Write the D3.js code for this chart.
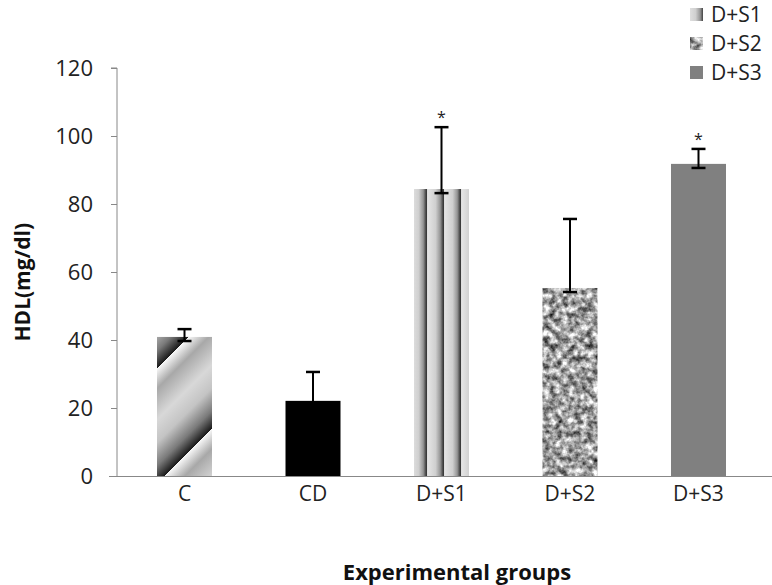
<!DOCTYPE html>
<html><head><meta charset="utf-8">
<script src="https://cdn.jsdelivr.net/npm/d3@7"></script>
<style>body{margin:0;background:#fff}svg{display:block}</style>
</head><body>
<svg id="chart" width="772" height="585"></svg>
<script>
const categories = ["C", "CD", "D+S1", "D+S2", "D+S3"];
const values = [40.9, 22.1, 84.4, 55.3, 91.8];
const errHigh = [43.2, 30.6, 102.6, 75.6, 96.2];
const errLow = [39.7, 21.2, 83.2, 54.1, 90.6];
const significant = [false, false, true, false, true];
const yTicks = [0, 20, 40, 60, 80, 100, 120];
const legendItems = ["D+S1", "D+S2", "D+S3"];

const svg = d3.select("#chart");
const font = "'Open Sans', 'Liberation Sans', sans-serif";
const defs = svg.append("defs");

const x = d3.scaleBand().domain(categories).range([120, 763])
  .paddingInner(0.572).paddingOuter(0.288);
const y = d3.scaleLinear().domain([0, 120]).range([476, 68]);

// C: diagonal sawtooth gradient
const gC = defs.append("linearGradient").attr("id", "gC")
  .attr("gradientUnits", "userSpaceOnUse").attr("spreadMethod", "repeat")
  .attr("x1", 32.5).attr("y1", 32.5).attr("x2", 90).attr("y2", 90);
[["0", "#fafafa"], ["0.18", "#a8a8a8"], ["0.45", "#d8d8d8"], ["0.65", "#c4c4c4"], ["0.85", "#7a7a7a"], ["1", "#1c1c1c"]]
  .forEach(([o, c]) => gC.append("stop").attr("offset", o).attr("stop-color", c));

// D+S1: vertical stripes
function stripeGrad(id, x0) {
  const g = defs.append("linearGradient").attr("id", id)
    .attr("gradientUnits", "userSpaceOnUse").attr("spreadMethod", "repeat")
    .attr("x1", x0).attr("y1", 0).attr("x2", x0 + 17).attr("y2", 0);
  [["0", "#e4e4e4"], ["0.45", "#cfcfcf"], ["0.72", "#959595"], ["0.9", "#3a3a3a"], ["0.93", "#3a3a3a"], ["0.96", "#dcdcdc"], ["1", "#e4e4e4"]]
    .forEach(([o, c]) => g.append("stop").attr("offset", o).attr("stop-color", c));
}
stripeGrad("gS1", x("D+S1") - 3);
stripeGrad("gS1leg", 688);

// D+S2: noise texture
const f = defs.append("filter").attr("id", "noise")
  .attr("color-interpolation-filters", "sRGB")
  .attr("x", 0).attr("y", 0).attr("width", 1).attr("height", 1);
f.append("feTurbulence").attr("type", "fractalNoise").attr("baseFrequency", 0.16)
  .attr("numOctaves", 3).attr("seed", 7).attr("result", "t");
f.append("feColorMatrix").attr("in", "t").attr("type", "matrix")
  .attr("values", "1.45 0 0 0 -0.1  1.45 0 0 0 -0.1  1.45 0 0 0 -0.1  0 0 0 0 1")
  .attr("result", "g");
f.append("feComposite").attr("in", "g").attr("in2", "SourceGraphic").attr("operator", "in");

const fills = ["url(#gC)", "#000000", "url(#gS1)", "#aaaaaa", "#808080"];
const filters = [null, null, null, "url(#noise)", null];

// Y axis
const yAxis = svg.append("g").attr("transform", "translate(117,0)")
  .call(d3.axisLeft(y).tickValues(yTicks).tickSize(6).tickPadding(18));
yAxis.select(".domain").attr("stroke", "#888").attr("d", `M-6,${y(120)}H0V${y(0)}`);
yAxis.selectAll(".tick line").attr("stroke", "#888");
yAxis.selectAll(".tick text").attr("font-family", font).attr("font-size", 22).attr("fill", "#222");

// X axis
const xAxis = svg.append("g").attr("transform", `translate(0,${y(0)})`)
  .call(d3.axisBottom(x).tickSize(0).tickPadding(10));
xAxis.select(".domain").attr("stroke", "#888").attr("d", `M109,0.5H772`);
xAxis.selectAll(".tick text").attr("font-family", font).attr("font-size", 21).attr("fill", "#222");

// Bars
const bars = svg.append("g");
categories.forEach((c, i) => {
  const r = bars.append("rect")
    .attr("x", x(c)).attr("width", x.bandwidth())
    .attr("y", y(values[i])).attr("height", y(0) - y(values[i]))
    .attr("fill", fills[i]);
  if (filters[i]) r.attr("filter", filters[i]);
});

// Error bars
const eb = svg.append("g").attr("stroke", "#000").attr("stroke-width", 2);
categories.forEach((c, i) => {
  const cx = x(c) + x.bandwidth() / 2;
  eb.append("line").attr("x1", cx).attr("x2", cx).attr("y1", y(errLow[i])).attr("y2", y(errHigh[i]));
  [errLow[i], errHigh[i]].forEach(v => eb.append("line")
    .attr("x1", cx - 7).attr("x2", cx + 7).attr("y1", y(v)).attr("y2", y(v)).attr("stroke-width", 2.5));
  if (significant[i]) {
    svg.append("text").attr("x", cx).attr("y", y(errHigh[i]) - 4)
      .attr("text-anchor", "middle").attr("font-family", font).attr("font-size", 16)
      .attr("fill", "#222").text("*");
  }
});

// Axis titles
svg.append("text").attr("transform", `translate(30,${y(57)}) rotate(-90)`)
  .attr("text-anchor", "middle").attr("font-family", font).attr("font-weight", "bold")
  .attr("font-size", 21).attr("fill", "#111").text("HDL(mg/dl)");
svg.append("text").attr("x", 457).attr("y", 580)
  .attr("text-anchor", "middle").attr("font-family", font).attr("font-weight", "bold")
  .attr("font-size", 22).attr("fill", "#111").text("Experimental groups");

// Legend
const legFills = ["url(#gS1leg)", "#aaaaaa", "#808080"];
const legFilters = [null, "url(#noise)", null];
legendItems.forEach((t, i) => {
  const ly = 14 + i * 29;
  const r = svg.append("rect").attr("x", 690).attr("y", ly - 6).attr("width", 13).attr("height", 13)
    .attr("fill", legFills[i]);
  if (legFilters[i]) r.attr("filter", legFilters[i]);
  svg.append("text").attr("x", 711).attr("y", ly + 8).attr("font-family", font)
    .attr("font-size", 21).attr("fill", "#222").text(t);
});
</script>
</body></html>
